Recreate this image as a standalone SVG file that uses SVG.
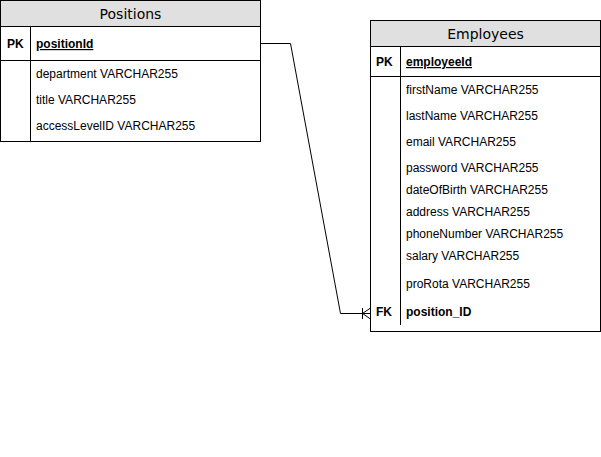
<svg xmlns="http://www.w3.org/2000/svg" width="601" height="457" viewBox="0 0 601 457">
<style>
.box{fill:#ffffff;stroke:#000000;stroke-width:1}
.hdr{fill:#e0e0e0;stroke:#000000;stroke-width:1}
.ln{stroke:#000000;stroke-width:1;fill:none}
.title{font-family:"DejaVu Sans",sans-serif;font-size:14px;fill:#000000;text-anchor:middle}
.t{font-family:"Liberation Sans",Arial,sans-serif;font-size:12px;fill:#000000}
.b{font-weight:bold}
.u{text-decoration:underline}
</style>
<rect width="601" height="457" fill="#ffffff"/>
<g id="positions">
<rect class="box" x="0.5" y="0.5" width="260" height="141"/>
<rect class="hdr" x="0.5" y="0.5" width="260" height="26"/>
<text class="title" x="130.5" y="19">Positions</text>
<line class="ln" x1="0.5" y1="60.5" x2="260.5" y2="60.5"/>
<line class="ln" x1="30.5" y1="26.5" x2="30.5" y2="141.5"/>
<text class="t b" x="7" y="48">PK</text>
<text class="t b u" x="36" y="48">positionId</text>
<text class="t" x="36" y="78">department VARCHAR255</text>
<text class="t" x="36" y="104">title VARCHAR255</text>
<text class="t" x="36" y="130">accessLevelID VARCHAR255</text>
</g>
<g id="employees">
<rect class="box" x="370.5" y="20.5" width="230" height="311"/>
<rect class="hdr" x="370.5" y="20.5" width="230" height="26"/>
<text class="title" x="485.5" y="39">Employees</text>
<line class="ln" x1="370.5" y1="76.5" x2="600.5" y2="76.5"/>
<line class="ln" x1="400.5" y1="46.5" x2="400.5" y2="325"/>
<text class="t b" x="376" y="66">PK</text>
<text class="t b u" x="406" y="66">employeeId</text>
<text class="t" x="406" y="94">firstName VARCHAR255</text>
<text class="t" x="406" y="120">lastName VARCHAR255</text>
<text class="t" x="406" y="146">email VARCHAR255</text>
<text class="t" x="406" y="172">password VARCHAR255</text>
<text class="t" x="406" y="194">dateOfBirth VARCHAR255</text>
<text class="t" x="406" y="216">address VARCHAR255</text>
<text class="t" x="406" y="238">phoneNumber VARCHAR255</text>
<text class="t" x="406" y="260">salary VARCHAR255</text>
<text class="t" x="406" y="288">proRota VARCHAR255</text>
<text class="t b" x="376" y="316">FK</text>
<text class="t b" x="406" y="316">position_ID</text>
</g>
<g id="connectors">
<polyline class="ln" points="260.5,43.5 290.5,43.5 340.5,313.5 370.5,313.5"/>
<line class="ln" x1="362.5" y1="308" x2="362.5" y2="319"/>
<line class="ln" x1="362.5" y1="313.5" x2="370.5" y2="308"/>
<line class="ln" x1="362.5" y1="313.5" x2="370.5" y2="319"/>
</g>
</svg>
